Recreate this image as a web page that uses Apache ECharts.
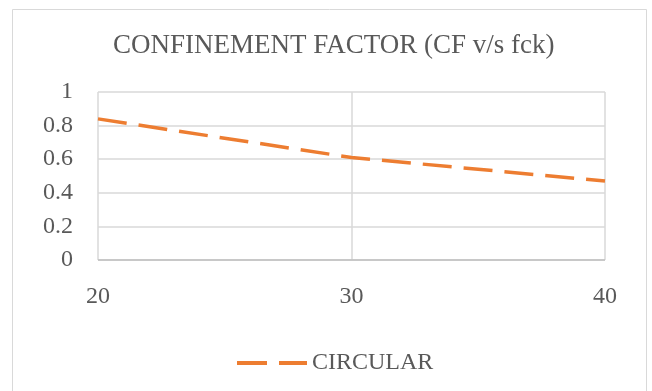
<!DOCTYPE html>
<html>
<head>
<meta charset="utf-8">
<script src="https://cdn.jsdelivr.net/npm/echarts@6/dist/echarts.min.js"></script>
<style>
  html, body { margin: 0; padding: 0; background: #fff; }
  #chart { width: 652px; height: 391px; }
</style>
</head>
<body>
<div id="chart"></div>
<script>
// Concrete grade fck (MPa) and confinement factor for circular sections
const fckValues = [20, 30, 40];
const circularCF = [0.84, 0.61, 0.47];
const seriesName = 'CIRCULAR';
const chartTitle = 'CONFINEMENT FACTOR (CF v/s fck)';

const lineColor = '#ED7D31';
const textColor = '#595959';
const gridColor = '#D9D9D9';
const serif = '"Liberation Serif", "Times New Roman", serif';

const chart = echarts.init(document.getElementById('chart'), null, { renderer: 'canvas' });

chart.setOption({
  backgroundColor: '#fff',
  animation: false,
  graphic: [{
    type: 'rect',
    shape: { x: 12.5, y: 9.5, width: 634, height: 400 },
    style: { fill: 'none', stroke: gridColor, lineWidth: 1 },
    silent: true
  }],
  title: {
    text: chartTitle,
    left: 108,
    top: 27,
    textStyle: { fontFamily: serif, fontSize: 27, fontWeight: 'normal', color: textColor }
  },
  legend: {
    top: 346,
    left: 232,
    itemWidth: 70,
    itemHeight: 4,
    // long-dash legend key: two dashes
    icon: 'path://M0,0 H30 V4 H0 Z M42,0 H70 V4 H42 Z',
    itemStyle: { color: lineColor },
    textStyle: { fontFamily: serif, fontSize: 24, color: textColor },
    data: [seriesName]
  },
  grid: { left: 98, right: 47, top: 92, bottom: 131 },
  xAxis: {
    type: 'value',
    min: 20,
    max: 40,
    interval: 10,
    axisLine: { show: false },
    axisTick: { show: false },
    axisLabel: { fontFamily: serif, fontSize: 24, color: textColor, margin: 25 },
    splitLine: { show: true, lineStyle: { color: gridColor, width: 1.5 } }
  },
  yAxis: {
    type: 'value',
    min: 0,
    max: 1,
    interval: 0.2,
    axisLine: { show: false },
    axisTick: { show: false },
    axisLabel: { fontFamily: serif, fontSize: 24, color: textColor, margin: 25 },
    splitLine: { show: true, lineStyle: { color: gridColor, width: 1.5 } }
  },
  series: [{
    name: seriesName,
    type: 'line',
    data: fckValues.map((x, i) => [x, circularCF[i]]),
    symbol: 'none',
    lineStyle: { color: lineColor, width: 3.5, type: [29, 12], cap: 'butt' },
    itemStyle: { color: lineColor },
    markLine: {
      silent: true,
      symbol: 'none',
      label: { show: false },
      lineStyle: { color: '#BFBFBF', width: 1.5, type: 'solid' },
      data: [[{ coord: [20, 0] }, { coord: [40, 0] }]]
    }
  }]
});
</script>
</body>
</html>
